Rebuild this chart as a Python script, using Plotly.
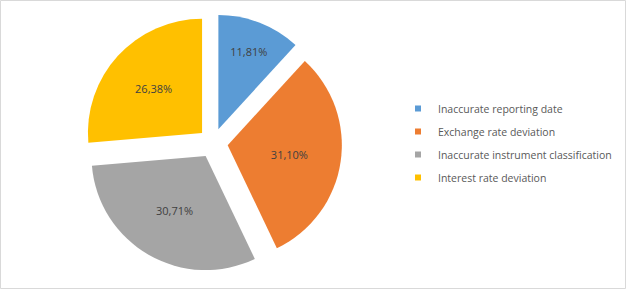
import plotly.graph_objects as go

labels = ["Inaccurate reporting date", "Exchange rate deviation",
          "Inaccurate instrument classification", "Interest rate deviation"]
values = [11.81, 31.10, 30.71, 26.38]
text_labels = ["11,81%", "31,10%", "30,71%", "26,38%"]
colors = ["#5B9BD5", "#ED7D31", "#A5A5A5", "#FFC000"]

W, H = 626, 289

fig = go.Figure()
fig.add_trace(go.Pie(
    labels=labels, values=values, text=text_labels,
    textinfo="text", textposition="inside", insidetextorientation="horizontal",
    sort=False, direction="clockwise", rotation=0,
    pull=[0.13] * 4,
    marker=dict(colors=colors, line=dict(width=0)),
    textfont=dict(family="Open Sans", size=11, color="#404040"),
    domain=dict(x=[84 / W, 342 / W], y=[1 - 272 / H, 1 - 14 / H]),
    hoverinfo="label+percent",
    showlegend=False,
))

# legend entries (small square markers) built from the same labels/colors
for i, (lab, col) in enumerate(zip(labels, colors)):
    fig.add_trace(go.Scatter(
        x=[None], y=[None], mode="markers", name=lab,
        marker=dict(symbol="square", size=6, color=col),
        legendgroup=f"g{i}", showlegend=True,
    ))

fig.update_layout(
    width=W, height=H,
    margin=dict(l=0, r=0, t=0, b=0),
    paper_bgcolor="white", plot_bgcolor="white",
    font=dict(family="Open Sans", color="#595959", size=10),
    xaxis=dict(visible=False), yaxis=dict(visible=False),
    showlegend=True,
    legend=dict(x=398 / W, y=1 - 143 / H, xanchor="left", yanchor="middle",
                font=dict(size=10.5, color="#595959"), itemwidth=30,
                tracegroupgap=4, bgcolor="rgba(0,0,0,0)"),
    shapes=[dict(type="rect", xref="paper", yref="paper",
                 x0=0.5 / W, x1=1 - 0.5 / W, y0=0.5 / H, y1=1 - 0.5 / H,
                 line=dict(color="#D9D9D9", width=1))],
)

fig.write_html("out.html")
